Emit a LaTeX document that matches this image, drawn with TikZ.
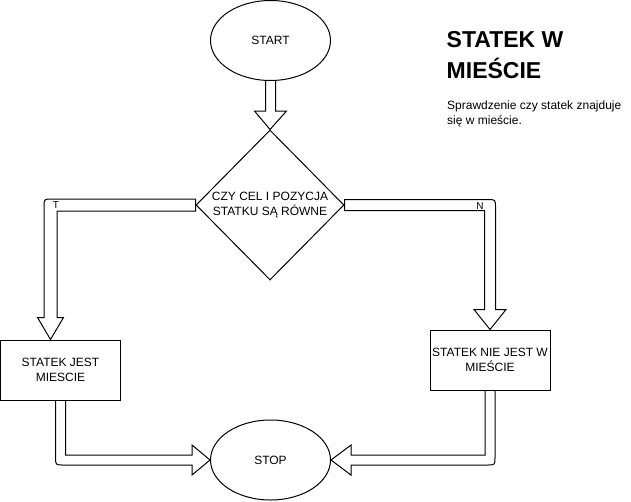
\documentclass[tikz,border=0pt]{standalone}
\usepackage{fontspec}
\setmainfont{Liberation Sans}
\usetikzlibrary{shapes.geometric,calc,backgrounds}
\begin{document}
\begin{tikzpicture}[x=1pt,y=-1pt, line width=1pt,
  every node/.style={font=\fontsize{12}{15}\selectfont},
  term/.style={ellipse, draw, fill=white, minimum width=120pt, minimum height=80pt, inner sep=0pt},
  proc/.style={rectangle, draw, fill=white, minimum width=120pt, minimum height=60pt, align=center, inner sep=0pt},
  dec/.style={diamond, draw, fill=white, minimum width=148pt, minimum height=150pt, inner sep=0pt},
  blockarrow/.style={draw, fill=white, line width=1pt, line join=miter},
  lbl/.style={font=\fontsize{10}{12}\selectfont, inner sep=0pt}]
\useasboundingbox (0,0) rectangle (631,501);

% nodes
\node[term] (start) at (270.5,40.5) {START};
\node[dec] (d) at (270,205) {};
\node[align=center, inner sep=0pt] (dtext) at (d.center) {CZY CEL I POZYCJA\\STATKU SĄ RÓWNE};
\node[proc] (b1) at (60.5,370) {STATEK JEST\\MIESCIE};
\node[proc] (b2) at (490,360) {STATEK NIE JEST W\\MIEŚCIE};
\node[term] (stop) at (270.5,460) {STOP};

\coordinate (tl) at ($(b1.north)+(-10,0)$);
\coordinate (tr) at (b2.north);
\coordinate (c1) at (tl|-d.west);
\coordinate (c2) at (tr|-d.east);
\coordinate (c3) at (b1.south|-stop.west);
\coordinate (c4) at (b2.south|-stop.east);

\begin{pgfonlayer}{background}
% START -> decision
\draw[blockarrow] ($(start.south)+(-5,-5)$) -- ($(start.south)+(-5,30)$) -- ($(start.south)+(-16,30)$) -- (d.north)
  -- ($(start.south)+(16,30)$) -- ($(start.south)+(5,30)$) -- ($(start.south)+(5,-5)$) -- cycle;
% decision -> b1 (T)
\draw[blockarrow] ($(d.west)+(0,-6)$) -- ($(c1)+(1.5,-6)$) .. controls ($(c1)+(-6.5,-6)$) .. ($(c1)+(-6.5,2)$)
  -- ($(tl)+(-6.5,-22)$) -- ($(tl)+(-13,-22)$) -- (tl) -- ($(tl)+(13,-22)$) -- ($(tl)+(6.5,-22)$)
  -- ($(c1)+(6.5,6)$) -- ($(d.west)+(0,6)$) -- cycle;
% decision -> b2 (N)
\draw[blockarrow] ($(d.east)+(0,-5.5)$) -- ($(c2)+(-2.5,-5.5)$) .. controls ($(c2)+(5.5,-5.5)$) .. ($(c2)+(5.5,2.5)$)
  -- ($(tr)+(5.5,-20)$) -- ($(tr)+(16,-20)$) -- (tr) -- ($(tr)+(-16,-20)$) -- ($(tr)+(-5.5,-20)$)
  -- ($(c2)+(-5.5,5.5)$) -- ($(d.east)+(0,5.5)$) -- cycle;
% b1 -> stop
\draw[blockarrow] ($(b1.south)+(-5,-3)$) -- ($(c3)+(-5,-3)$) .. controls ($(c3)+(-5,5)$) .. ($(c3)+(3,5)$)
  -- ($(stop.west)+(-18,5)$) -- ($(stop.west)+(-18,15)$) -- (stop.west) -- ($(stop.west)+(-18,-15)$)
  -- ($(stop.west)+(-18,-5)$) -- ($(c3)+(5,-5)$) -- ($(b1.south)+(5,-3)$) -- cycle;
% b2 -> stop
\draw[blockarrow] ($(b2.south)+(5,-3)$) -- ($(c4)+(5,-3)$) .. controls ($(c4)+(5,5)$) .. ($(c4)+(-3,5)$)
  -- ($(stop.east)+(20,5)$) -- ($(stop.east)+(20,15)$) -- (stop.east) -- ($(stop.east)+(20,-15)$)
  -- ($(stop.east)+(20,-5)$) -- ($(c4)+(-5,-5)$) -- ($(b2.south)+(-5,-3)$) -- cycle;
\end{pgfonlayer}

% branch labels
\node[lbl] (lt) at (56,205) {T};
\node[lbl] (ln) at (480,206) {N};

% title and description
\node[anchor=north west, inner sep=0pt, align=left, font=\fontsize{23}{31}\selectfont\bfseries] (title) at (446.5,31) {STATEK W\\MIEŚCIE};
\node[anchor=north west, inner sep=0pt, align=left, font=\fontsize{12}{15}\selectfont] (desc) at (447,100.3) {Sprawdzenie czy statek znajduje\\się w mieście.};
\end{tikzpicture}
\end{document}
